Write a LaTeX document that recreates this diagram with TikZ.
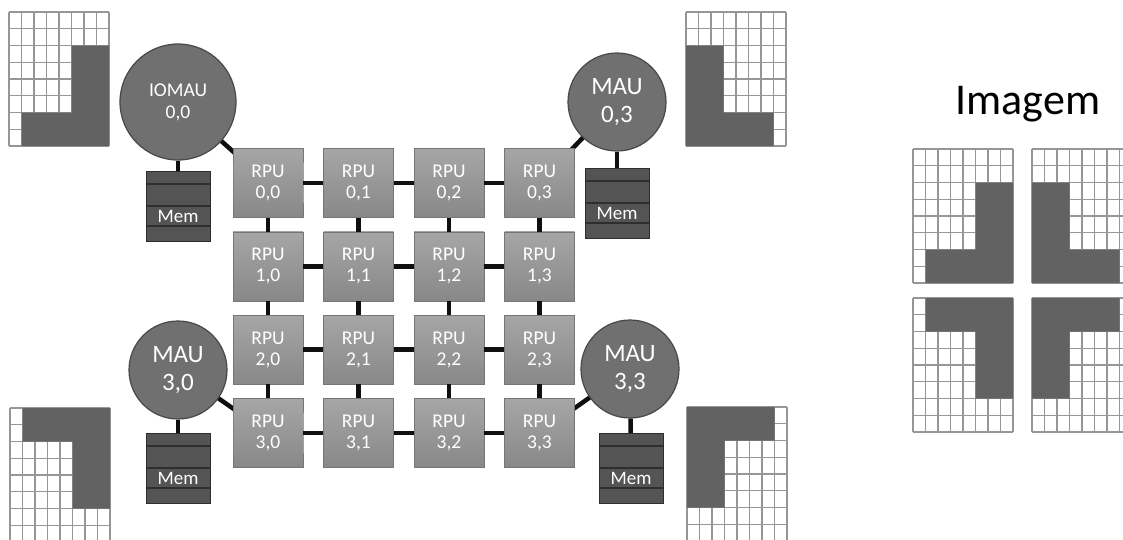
\documentclass[tikz,border=0pt]{standalone}
\usepackage{fontspec}
\setmainfont{Carlito}
\usetikzlibrary{shapes.misc,backgrounds}

\definecolor{rputop}{RGB}{166,166,166}
\definecolor{rpubot}{RGB}{136,136,136}
\definecolor{rpuedge}{RGB}{118,118,118}
\definecolor{maugray}{RGB}{112,112,112}
\definecolor{mauedge}{RGB}{72,72,72}
\definecolor{memgray}{RGB}{84,84,84}
\definecolor{memline}{RGB}{46,46,46}
\definecolor{cellgray}{RGB}{98,98,98}
\definecolor{gridgray}{RGB}{150,150,150}
\definecolor{linkblack}{RGB}{15,15,15}

% 8x8 pixel image: origin x, origin y, dark region in cell units
\newcommand\pixgrid[3]{%
  \begin{scope}[shift={(#1,#2)}, x=12.5pt, y=-16.75pt]
    \fill[white] (0,0) rectangle (8,8);
    \foreach \k in {0,...,8} {
      \draw[gridln] (\k,0) -- (\k,8);
      \draw[gridln] (0,\k) -- (8,\k);
    }
    \fill[cellgray] #3;
  \end{scope}}

\begin{document}
\begin{tikzpicture}[
  x=1pt, y=-1pt,
  rpu/.style={rectangle, minimum width=70pt, minimum height=69pt, inner sep=0pt, top color=rputop, bottom color=rpubot, draw=rpuedge, line width=0.6pt, text=white, align=center, font=\fontsize{19.5}{21}\selectfont},
  notch/.style={chamfered rectangle, chamfered rectangle corners=#1, chamfered rectangle xsep=13pt, chamfered rectangle ysep=15pt},
  mau/.style={circle, minimum size=98pt, inner sep=0pt, fill=maugray, draw=mauedge, line width=1.2pt, text=white, align=center, font=\fontsize{25}{28}\selectfont},
  mem/.style={rectangle, minimum width=64pt, inner sep=0pt, text height=51pt, text depth=19pt, fill=memgray, draw=memline, text=white, font=\fontsize{19}{20}\selectfont,
    path picture={\foreach \d in {13,35,55} \draw[memline, line width=1.3pt] ([yshift=-\d pt]path picture bounding box.north west) -- ([yshift=-\d pt]path picture bounding box.north east);}},
  link/.style={draw=linkblack, line width=4.5pt},
  gridln/.style={draw=gridgray, line width=1.3pt}
]
\useasboundingbox (0,0) rectangle (1123,539);
\clip (0,0) rectangle (1123,539);

% pixel images at the corners
\pixgrid{9}{12}{(5,2) -- (8,2) -- (8,8) -- (1,8) -- (1,6) -- (5,6) -- cycle}
\pixgrid{686}{12}{(0,2) -- (3,2) -- (3,6) -- (7,6) -- (7,8) -- (0,8) -- cycle}
\pixgrid{10}{408}{(1,0) -- (8,0) -- (8,6) -- (5,6) -- (5,2) -- (1,2) -- cycle}
\pixgrid{687}{407}{(0,0) -- (7,0) -- (7,2) -- (3,2) -- (3,6) -- (0,6) -- cycle}

% whole image
\node[font=\fontsize{44}{44}\selectfont] (imagem) at (1028,104) {Imagem};
\pixgrid{913}{149}{(5,2) -- (8,2) -- (8,8) -- (1,8) -- (1,6) -- (5,6) -- cycle}
\pixgrid{1032}{149}{(0,2) -- (3,2) -- (3,6) -- (7,6) -- (7,8) -- (0,8) -- cycle}
\pixgrid{913}{298}{(1,0) -- (8,0) -- (8,6) -- (5,6) -- (5,2) -- (1,2) -- cycle}
\pixgrid{1032}{298}{(0,0) -- (7,0) -- (7,2) -- (3,2) -- (3,6) -- (0,6) -- cycle}

% RPU array
\foreach \i in {1,2}
  \foreach \j in {0,...,3}
    \node[rpu] (r\i\j) at (268+90.5*\j, 183+83.33*\i) {RPU\\\i,\j};
\foreach \i in {0,3}
  \foreach \j in {1,2}
    \node[rpu] (r\i\j) at (268+90.5*\j, 183+83.33*\i) {RPU\\\i,\j};
\foreach \i/\j/\c in {0/0/north west, 0/3/north east, 3/0/north west, 3/3/north east}
  \node[rpu, notch=\c] (r\i\j) at (268+90.5*\j, 183+83.33*\i) {RPU\\\i,\j};
\foreach \i in {0,...,3}
  \foreach \j/\k in {0/1,1/2,2/3} {
    \draw[link] (r\i\j.east) -- (r\i\k.west);
    \draw[link] (r\j\i.south) -- (r\k\i.north);
  }

% memory access units
\node[mau, minimum size=116pt, font=\fontsize{19.5}{22}\selectfont] (iomau) at (178,102) {IOMAU\\0,0};
\node[mau] (mau03) at (617,102) {MAU\\0,3};
\node[mau] (mau30) at (178,370) {MAU\\3,0};
\node[mau] (mau33) at (630,369) {MAU\\3,3};
\node[mem] (mem00) at (178,206) {Mem};
\node[mem] (mem03) at (617,203) {Mem};
\node[mem] (mem30) at (178,468) {Mem};
\node[mem] (mem33) at (631,468) {Mem};
\draw[link] (iomau) -- (mem00);
\draw[link] (mau03) -- (mem03);
\draw[link] (mau30) -- (mem30);
\draw[link] (mau33) -- (mem33);

\begin{scope}[on background layer]
  \fill[white] (0,0) rectangle (1123,539);
  \draw[link] (iomau.center) -- (r00.center);
  \draw[link] (mau03.center) -- (r03.center);
  \draw[link] (mau30.center) -- (r30.center);
  \draw[link] (mau33.center) -- (r33.center);
\end{scope}
\end{tikzpicture}
\end{document}
